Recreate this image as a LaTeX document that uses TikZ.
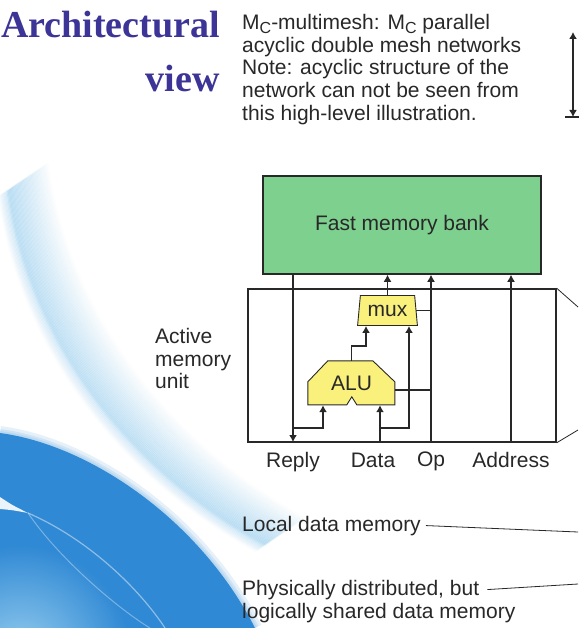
\documentclass[tikz,border=0pt]{standalone}
\usepackage{fontspec}
\setmainfont{Liberation Serif}
\setsansfont{Liberation Sans}
\usetikzlibrary{shapes.geometric,arrows.meta,positioning}
\definecolor{titleblue}{RGB}{60,52,150}
\definecolor{bankgreen}{RGB}{126,208,143}
\definecolor{unityellow}{RGB}{250,240,124}
\definecolor{swirlblue}{RGB}{48,137,212}
\definecolor{swirllight}{RGB}{80,172,228}
\definecolor{inkgray}{RGB}{40,40,40}

\begin{document}
\begin{tikzpicture}[x=1pt,y=-1pt,
    txt/.style={font=\sffamily\fontsize{21}{22.75}\selectfont,text=inkgray,inner sep=0pt},
    heading/.style={font=\bfseries\fontsize{38}{40}\selectfont,text=titleblue,inner sep=0pt},
    wire/.style={line width=1.5pt,draw=inkgray},
    sig/.style={wire,-{Latex[length=7pt,width=8pt]}},
    thinline/.style={line width=0.8pt,draw=inkgray},
    unitshape/.style={fill=unityellow,draw=inkgray,line width=0.9pt},
    alubox/.style={minimum width=87pt,minimum height=44pt,inner sep=0pt}]
  \useasboundingbox (0,0) rectangle (578,628);
  \fill[white] (0,0) rectangle (578,628);
  % background swirl
  \foreach \k in {0,...,36}
    \draw[swirllight,line width=3pt,opacity={0.17*(1-\k/37)},shift={(\k*1.1,-\k*0.75)}]
      (8,190) .. controls (25,320) and (110,460) .. (265,545);
  \foreach \k in {1,...,8}
    \draw[swirllight,line width=3pt,opacity={0.12*(1-\k/9)},shift={(-\k*1.1,\k*0.75)}]
      (8,190) .. controls (25,320) and (110,460) .. (265,545);
  \foreach \w in {14,8,4}
    \draw[swirlblue,line width=\w pt,opacity=0.12] (0,433) .. controls (90,445) and (200,520) .. (255,628);
  \begin{scope}
    \clip (0,433) .. controls (90,445) and (200,520) .. (255,628) -- (0,628) -- cycle;
    \fill[swirlblue] (0,400) rectangle (260,628);
    \shade[inner color=swirllight!60!white,outer color=swirlblue] (20,655) circle[radius=110pt];
    \fill[white,opacity=0.9] (0,497) .. controls (12,505) .. (28,513) .. controls (12,510) .. (0,509) -- cycle;
    \draw[white,opacity=0.45,line width=1.2pt] (28,513) .. controls (90,540) and (140,590) .. (165,628);
    \draw[white,opacity=0.35,line width=1pt] (28,513) .. controls (60,560) and (120,610) .. (150,628);
  \end{scope}

  \node[heading,anchor=base east] (arch) at (220,38) {Architectural};
  \node[heading,anchor=base east] (view) at (220,92) {view};
  \node[txt,anchor=north west,align=left] (note) at (242,14)
    {M\lower4pt\hbox{\fontsize{16}{16}\selectfont C}-multimesh: M\lower4pt\hbox{\fontsize{16}{16}\selectfont C} parallel\\
     acyclic double mesh networks\\
     Note: acyclic structure of the\\
     network can not be seen from\\
     this high-level illustration.};
  \coordinate (spantop) at (573,32);
  \coordinate (spanbot) at (573,117);
  \draw[wire,{Latex[length=7pt,width=8pt]}-{Latex[length=7pt,width=8pt]}] (spantop) -- (spanbot);
  \draw[wire] (spanbot) ++(-8,0) -- ++(16,0);

  \node[txt,draw=inkgray,line width=1.5pt,fill=bankgreen,minimum width=278pt,minimum height=98pt] (bank) at (402,225) {Fast memory bank};
  \node[draw=inkgray,line width=1.5pt,minimum width=308pt,minimum height=153pt] (amu) at (402,365.5) {};
  \node[txt,anchor=north west,align=left] (amulbl) at (155,328) {Active\\memory\\unit};

  \node[txt,trapezium,trapezium left angle=80,trapezium right angle=80,trapezium stretches=true,
        minimum width=60pt,minimum height=30pt,unitshape] (mux) at (387.5,310.5) {mux};
  \node[alubox] (alu) at (351.5,383) {};
  \filldraw[unitshape] (alu.north west) ++(0,21) -- ++(20,-21) -- ++(45,0) -- ++(22,21) -- ++(0,23)
    -- ++(-38,0) -- ++(-5,-8) -- ++(-5,8) -- ++(-39,0) -- cycle;
  \node[txt] (alutxt) at (alu) {ALU};

  \coordinate (muxa) at ([xshift=-21.5pt]mux.south);
  \coordinate (muxb) at ([xshift=21.5pt]mux.south);
  \coordinate (alua) at ([xshift=-28.5pt]alu.south);
  \coordinate (alub) at ([xshift=28.5pt]alu.south);
  \coordinate (reply) at (293,442);
  \coordinate (data) at (alub |- amu.south);
  \coordinate (op) at (431,442);
  \coordinate (addr) at (511,442);

  \draw[sig] (bank.south -| reply) -- (reply);
  \draw[sig] (reply |- 0,428) -| (alua);
  \draw[sig] (data) -- (alub);
  \draw[sig] (data |- 0,428) -| (muxb);
  \draw[sig] (alu.north) -- ++(0,-15) -| (muxa);
  \draw[sig] (mux.north) -- (mux.north |- bank.south);
  \draw[sig] (op) -- (op |- bank.south);
  \draw[wire] (op |- mux.east) -- (mux.east);
  \draw[wire] (op |- 0,390) -- (alu.east |- 0,390);
  \draw[sig] (addr) -- (addr |- bank.south);

  \node[txt,below=10pt of reply] (replylbl) {Reply};
  \node[txt,below=10pt of data,xshift=-7pt] (datalbl) {Data};
  \node[txt,below=10pt of op] (oplbl) {Op};
  \node[txt,below=10pt of addr] (addrlbl) {Address};

  \coordinate (sidetop) at (578,307);
  \coordinate (sidebot) at (578,430);
  \draw[thinline] (amu.north east) -- (sidetop);
  \draw[thinline] (amu.south east) -- (sidebot);

  \node[txt,anchor=base west] (local) at (242,531) {Local data memory};
  \node[txt,anchor=base west] (dist) at (242,595) {Physically distributed, but};
  \node[txt,anchor=base west] (shared) at (242,618) {logically shared data memory};
  \coordinate (localend) at (578,532);
  \coordinate (distend) at (578,584);
  \draw[thinline] ([xshift=5pt]local.east) -- (localend);
  \draw[thinline] ([xshift=8pt]dist.east) -- (distend);
\end{tikzpicture}
\end{document}
